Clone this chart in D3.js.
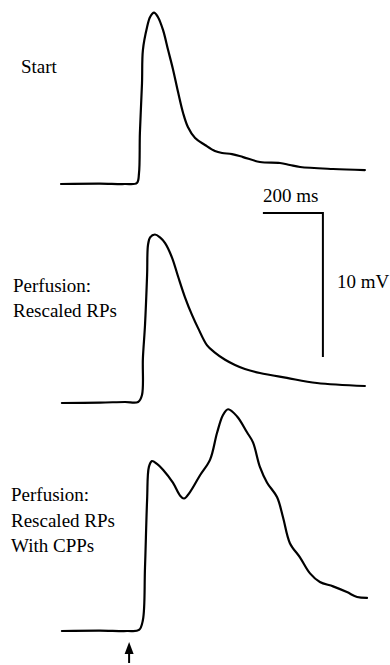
<!DOCTYPE html>
<html>
<head>
<meta charset="utf-8">
<script src="https://cdn.jsdelivr.net/npm/d3@7"></script>
<style>
  html, body { margin: 0; padding: 0; background: #fff; }
  svg { display: block; }
</style>
</head>
<body>
<svg id="chart" width="390" height="665"></svg>
<script>
// ---- Data (time in ms, membrane potential in mV above rest) ----
const traceNames = ["Start", "Perfusion: Rescaled RPs", "Perfusion: Rescaled RPs With CPPs"];

const startTime = [0, 130, 213, 253, 260, 263, 270, 273, 287, 297, 310, 323, 340, 357, 373, 390, 407, 423, 447, 480, 513, 537, 570, 607, 663, 730, 763, 797, 907, 1013];
const startMv   = [0, 0.03, 0, 0.07, 0.76, 3.54, 6.99, 9.3, 10.9, 11.6, 11.9, 11.6, 10.7, 9.3, 7.99, 6.4, 4.93, 3.96, 3.19, 2.71, 2.29, 2.15, 2.08, 1.87, 1.53, 1.46, 1.32, 1.18, 1.04, 0.97];

const rescaledTime = [3, 130, 213, 257, 270, 273, 280, 287, 290, 297, 313, 330, 347, 370, 390, 413, 437, 457, 487, 513, 547, 580, 613, 663, 753, 853, 1013];
const rescaledMv   = [0, 0.03, 0.07, 0.07, 0.56, 3.1, 5.4, 8.9, 10.97, 11.5, 11.7, 11.5, 11.1, 10.1, 8.8, 7.36, 6.1, 5.2, 4.0, 3.5, 3.0, 2.64, 2.36, 2.08, 1.74, 1.39, 1.18];

const cppTime = [3, 130, 220, 260, 273, 280, 287, 293, 303, 320, 340, 373, 397, 410, 430, 463, 497, 520, 540, 557, 587, 620, 640, 663, 687, 720, 740, 763, 797, 830, 863, 907, 953, 987, 1020];
const cppMv   = [0, 0.03, 0.0, 0.07, 0.76, 4.4, 9.1, 11.4, 11.8, 11.6, 11.2, 10.3, 9.4, 9.2, 9.65, 10.8, 11.9, 13.75, 15.0, 15.4, 14.9, 13.8, 13.1, 11.4, 10.3, 9.3, 7.9, 6.1, 5.1, 4.0, 3.4, 3.1, 2.7, 2.36, 2.3];

// Scale bar values
const scaleBarMs = 200;
const scaleBarMv = 10;
const scaleBarLabels = ["200 ms", "10 mV"];
const stimulusTime = 227; // ms, arrow marking stimulus

// ---- Layout ----
const FONT = "'Liberation Serif', 'DejaVu Serif', 'Times New Roman', Times, serif";
const svg = d3.select("#chart");
const x = d3.scaleLinear().domain([0, 1000]).range([61, 361]);
const pxPerMv = 14.4;
const baselines = [184, 403, 631];
const yScales = baselines.map(b => d3.scaleLinear().domain([0, 10]).range([b, b - 10 * pxPerMv]));

const traces = [
  { t: startTime, v: startMv },
  { t: rescaledTime, v: rescaledMv },
  { t: cppTime, v: cppMv }
];

const line = (ys) => d3.line()
  .x(d => x(d[0]))
  .y(d => ys(d[1]))
  .curve(d3.curveCatmullRom.alpha(0.5));

traces.forEach((tr, i) => {
  const pts = tr.t.map((t, k) => [t, tr.v[k]]);
  svg.append("path")
    .attr("d", line(yScales[i])(pts))
    .attr("fill", "none")
    .attr("stroke", "#000")
    .attr("stroke-width", 2.2)
    .attr("stroke-linejoin", "round")
    .attr("stroke-linecap", "round");
});

function addText(s, tx, ty) {
  svg.append("text")
    .attr("x", tx).attr("y", ty)
    .attr("font-family", FONT)
    .attr("font-size", 19)
    .attr("fill", "#000")
    .text(s);
}

// ---- Labels ----
const labelLines = [
  { lines: ["Start"], x: 21, y: 73, dy: 0 },
  { lines: ["Perfusion:", "Rescaled RPs"], x: 13, y: 292, dy: 25 },
  { lines: ["Perfusion:", "Rescaled RPs", "With CPPs"], x: 11, y: 501, dy: 25.5 }
];
labelLines.forEach(l => {
  l.lines.forEach((s, k) => addText(s, l.x, l.y + k * l.dy));
});

// ---- Scale bar (anchored in panel 2 coordinates) ----
const barEndT = 873;
const barTopMv = 13.2;
const ys2 = yScales[1];
svg.append("path")
  .attr("d", `M${x(barEndT - scaleBarMs)},${ys2(barTopMv)} L${x(barEndT)},${ys2(barTopMv)} L${x(barEndT)},${ys2(barTopMv - scaleBarMv)}`)
  .attr("fill", "none")
  .attr("stroke", "#000")
  .attr("stroke-width", 2);
addText(scaleBarLabels[0], x(barEndT - scaleBarMs), ys2(barTopMv) - 11);
addText(scaleBarLabels[1], x(barEndT) + 14, ys2(barTopMv - scaleBarMv / 2) + 3);

// ---- Stimulus arrow ----
const ax = x(stimulusTime);
const tipY = 642;
svg.append("line")
  .attr("x1", ax).attr("x2", ax)
  .attr("y1", tipY + 8).attr("y2", 663)
  .attr("stroke", "#000").attr("stroke-width", 2);
svg.append("path")
  .attr("d", `M${ax},${tipY} L${ax - 4.5},${tipY + 12} L${ax + 4.5},${tipY + 12} Z`)
  .attr("fill", "#000");
</script>
</body>
</html>
